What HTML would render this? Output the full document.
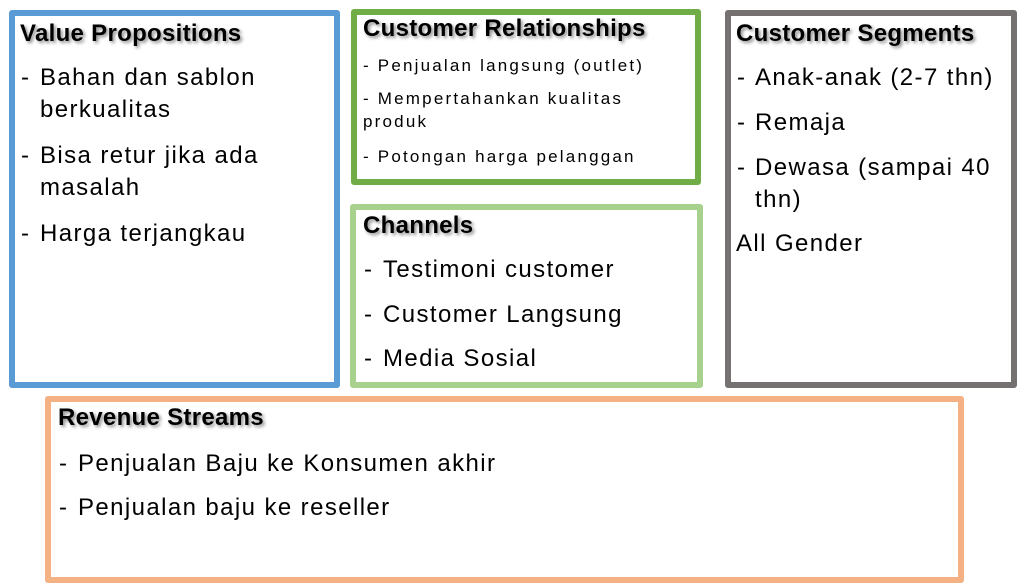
<!DOCTYPE html>
<html><head><meta charset="utf-8"><style>
body{margin:0;width:1023px;height:585px;background:#fff;position:relative;overflow:hidden;font-family:"Liberation Sans",sans-serif;color:#000}
.b{position:absolute;box-sizing:border-box;border:6px solid;border-radius:3px}
.t{position:absolute;white-space:nowrap;font-size:24px;line-height:32px;letter-spacing:1.4px}
.h{font-weight:bold;font-size:24px;letter-spacing:0.3px;text-shadow:2px 2px 3px rgba(0,0,0,.45)}
.s{font-size:17px;line-height:23px;letter-spacing:2.2px}
.d{position:absolute;font-size:24px;line-height:32px}
</style></head><body>
<div class="b" style="left:9px;top:10px;width:331px;height:378px;border-color:#5B9BD5"></div>
<div class="b" style="left:351px;top:9px;width:350px;height:176px;border-color:#70AD47"></div>
<div class="b" style="left:350px;top:204px;width:353px;height:184px;border-color:#A9D18E"></div>
<div class="b" style="left:725px;top:10px;width:292px;height:378px;border-color:#767171"></div>
<div class="b" style="left:45px;top:396px;width:919px;height:187px;border-color:#F4B183"></div>

<div class="t h" style="left:20px;top:18px">Value Propositions</div>
<div class="d" style="left:21px;top:62px">-</div><div class="t" style="left:40px;top:62px">Bahan dan sablon</div>
<div class="t" style="left:40px;top:94px">berkualitas</div>
<div class="d" style="left:21px;top:140px">-</div><div class="t" style="left:40px;top:140px">Bisa retur jika ada</div>
<div class="t" style="left:40px;top:172px">masalah</div>
<div class="d" style="left:21px;top:218px">-</div><div class="t" style="left:40px;top:218px">Harga terjangkau</div>

<div class="t h" style="left:363px;top:13px">Customer Relationships</div>
<div class="t s" style="left:363px;top:54px">- Penjualan langsung (outlet)</div>
<div class="t s" style="left:363px;top:87px">- Mempertahankan kualitas</div>
<div class="t s" style="left:363px;top:110px">produk</div>
<div class="t s" style="left:363px;top:145px">- Potongan harga pelanggan</div>

<div class="t h" style="left:363px;top:210px">Channels</div>
<div class="d" style="left:364px;top:254px">-</div><div class="t" style="left:383px;top:254px">Testimoni customer</div>
<div class="d" style="left:364px;top:299px">-</div><div class="t" style="left:383px;top:299px">Customer Langsung</div>
<div class="d" style="left:364px;top:343px">-</div><div class="t" style="left:383px;top:343px">Media Sosial</div>

<div class="t h" style="left:736px;top:18px">Customer Segments</div>
<div class="d" style="left:737px;top:62px">-</div><div class="t" style="left:755px;top:62px">Anak-anak (2-7 thn)</div>
<div class="d" style="left:737px;top:107px">-</div><div class="t" style="left:755px;top:107px">Remaja</div>
<div class="d" style="left:737px;top:152px">-</div><div class="t" style="left:755px;top:152px">Dewasa (sampai 40</div>
<div class="t" style="left:755px;top:184px">thn)</div>
<div class="t" style="left:736px;top:228px">All Gender</div>

<div class="t h" style="left:58px;top:402px">Revenue Streams</div>
<div class="d" style="left:59px;top:448px">-</div><div class="t" style="left:78px;top:448px">Penjualan Baju ke Konsumen akhir</div>
<div class="d" style="left:59px;top:492px">-</div><div class="t" style="left:78px;top:492px">Penjualan baju ke reseller</div>
</body></html>
